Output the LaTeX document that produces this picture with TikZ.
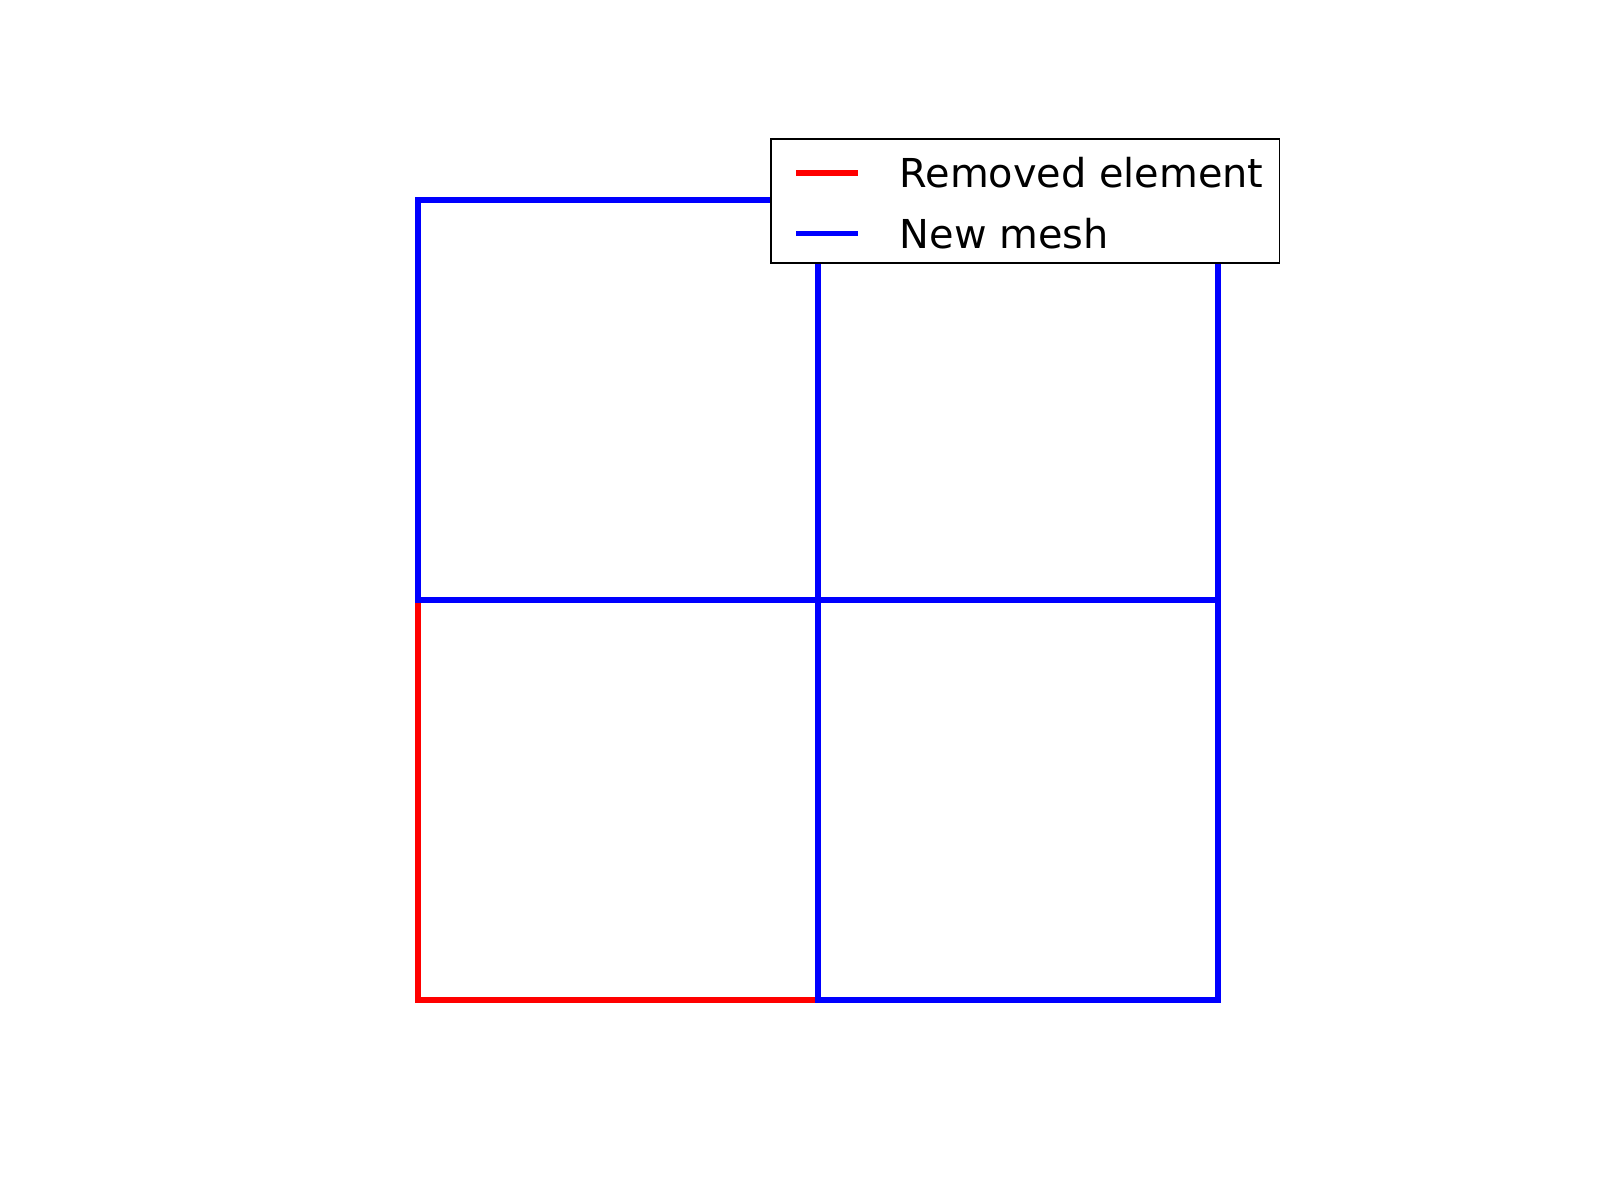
\documentclass[tikz,border=0pt]{standalone}
\usepackage{fontspec}
\setmainfont{DejaVu Sans}
\begin{document}
\begin{tikzpicture}[x=0.01cm,y=-0.01cm,
  edge/.style={line width=1.7pt,line join=miter,line cap=rect},
  removed/.style={edge,draw={rgb,255:red,255;green,0;blue,0}},
  newmesh/.style={edge,draw={rgb,255:red,0;green,0;blue,255}},
  legtext/.style={anchor=base west,inner sep=0pt,font=\fontsize{11.33pt}{13pt}\selectfont},
  legline/.style={line width=1.45pt}]
\useasboundingbox (0,0) rectangle (1600,1200);
% grid coordinates
\coordinate (A00) at (418,1000); \coordinate (A10) at (818,1000); \coordinate (A20) at (1218,1000);
\coordinate (A01) at (418,600);  \coordinate (A11) at (818,600);  \coordinate (A21) at (1218,600);
\coordinate (A02) at (418,200);  \coordinate (A12) at (818,200);  \coordinate (A22) at (1218,200);
% removed element
\draw[removed] (A00) -- (A10) -- (A11) -- (A01) -- cycle;
% new mesh
\draw[newmesh] (A10) -- (A20) -- (A21) -- (A11) -- cycle;
\draw[newmesh] (A01) -- (A11) -- (A12) -- (A02) -- cycle;
\draw[newmesh] (A11) -- (A21) -- (A22) -- (A12) -- cycle;
% legend
\coordinate (L1) at (771,139); \coordinate (L2) at (1279.5,263);
\draw[black,fill=white,line width=0.55pt] (L1) rectangle (L2);
\coordinate (r1) at (796,173); \coordinate (r2) at (858,173);
\coordinate (b1) at (796,233.5); \coordinate (b2) at (858,233.5);
\draw[legline,draw={rgb,255:red,255;green,0;blue,0}] (r1) -- (r2);
\draw[legline,draw={rgb,255:red,0;green,0;blue,255}] (b1) -- (b2);
\node[legtext] (t1) at (899,187.5) {Removed element};
\node[legtext] (t2) at (899,248) {New mesh};
\end{tikzpicture}
\end{document}
